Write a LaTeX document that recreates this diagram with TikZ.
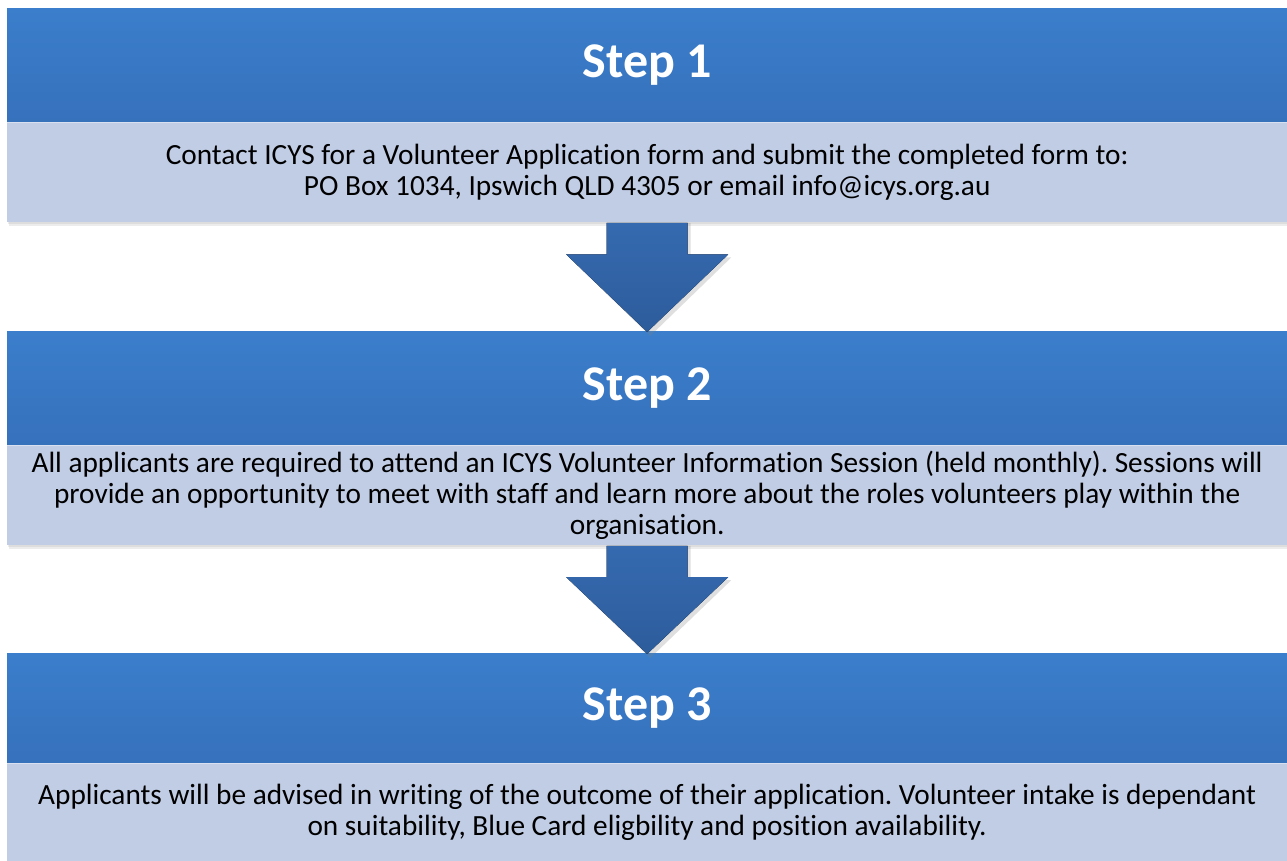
\documentclass[tikz,border=0pt]{standalone}
\usepackage{fontspec}
\setmainfont{Carlito}[Ligatures=NoCommon]
\usetikzlibrary{calc,positioning}
\definecolor{hdtop}{HTML}{3B7ECB}
\definecolor{hdbot}{HTML}{3671BC}
\definecolor{bodyfill}{HTML}{C1CDE5}
\definecolor{bodyedge}{HTML}{D9E1F0}
\definecolor{arrtop}{HTML}{356AB0}
\definecolor{arrbot}{HTML}{2D5C9B}
\newcommand{\steptitle}[1]{\raisebox{-12pt}[0pt][0pt]{#1}}
\tikzset{
  header/.style={minimum width=1280pt, minimum height=114pt, inner sep=0pt,
    top color=hdtop, bottom color=hdbot, text=white,
    font=\fontsize{50}{58}\selectfont\bfseries, anchor=north west},
  bodybox/.style={minimum width=1280pt, inner sep=0pt, fill=bodyfill,
    align=center, text=black,
    font=\fontsize{29.3}{31}\selectfont\frenchspacing, anchor=north west},
  arrowfill/.style={top color=arrtop, bottom color=arrbot},
}
\begin{document}
\begin{tikzpicture}[x=1pt,y=-1pt]
\useasboundingbox[fill=white] (0,0) rectangle (1287,860);
% shadows
\foreach \t/\b in {8/221, 331/544}{
  \fill[black!40, opacity=0.18] (9,\t+3) rectangle (1289,\b+5);
  \fill[black!40, opacity=0.18] (8,\t+2) rectangle (1288,\b+3);
}
% Step 1
\node[header] (h1) at (7,8) {\steptitle{Step 1}};
\node[bodybox, minimum height=99pt] (b1) at (h1.south west) {Contact ICYS for a Volunteer Application form and submit the completed form to:\\PO Box 1034, Ipswich QLD 4305 or email info@icys.org.au};
\draw[bodyedge, line width=1pt] (h1.south west) -- (h1.south east);
% Step 2
\node[header] (h2) at (7,331) {\steptitle{Step 2}};
\node[bodybox, minimum height=99pt] (b2) at (h2.south west) {All applicants are required to attend an ICYS Volunteer Information Session (held monthly). Sessions will\\provide an opportunity to meet with staff and learn more about the roles volunteers play within the\\organisation.};
\draw[bodyedge, line width=1pt] (h2.south west) -- (h2.south east);
% Step 3
\node[header, minimum height=110pt] (h3) at (7,653) {\steptitle{Step 3}};
\node[bodybox, minimum height=97pt] (b3) at (h3.south west) {Applicants will be advised in writing of the outcome of their application. Volunteer intake is dependant\\on suitability, Blue Card eligbility and position availability.};
\draw[bodyedge, line width=1pt] (h3.south west) -- (h3.south east);
% arrows
\foreach \a/\b in {b1/h2, b2/h3}{
  \coordinate (s) at ($(\a.south)+(0,1)$);
  \coordinate (t) at ($(\b.north)+(0,1)$);
  \fill[black!50, opacity=0.25]
    ($(s)+(-40.5+3,0)$) -- ($(s)+(40.5+3,0)$) -- ($(s)!0.29!(t)+(40.5+3,3)$) -- ($(s)!0.29!(t)+(81+3,3)$)
    -- ($(t)+(3,4)$) -- ($(s)!0.29!(t)+(-81+3,3)$) -- ($(s)!0.29!(t)+(-40.5+3,3)$) -- cycle;
  \fill[arrowfill]
    ($(s)+(-40.5,0)$) -- ($(s)+(40.5,0)$) -- ($(s)!0.29!(t)+(40.5,0)$) -- ($(s)!0.29!(t)+(81,0)$)
    -- (t) -- ($(s)!0.29!(t)+(-81,0)$) -- ($(s)!0.29!(t)+(-40.5,0)$) -- cycle;
}
\end{tikzpicture}
\end{document}
